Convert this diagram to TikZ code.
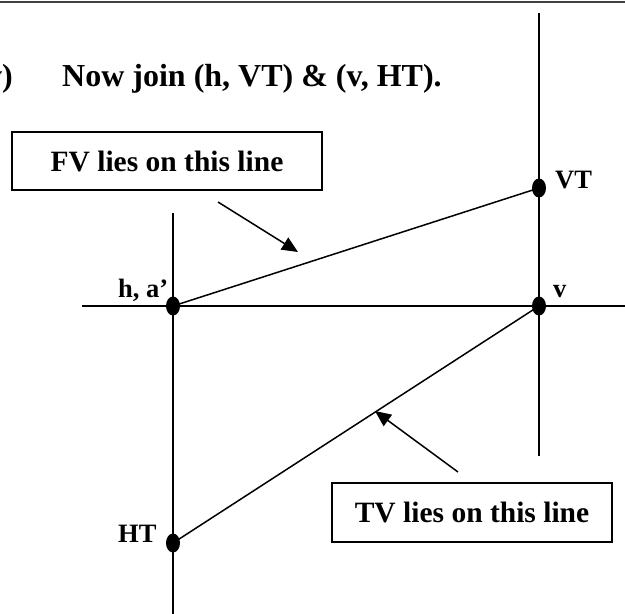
\documentclass[tikz,border=0pt]{standalone}
\usepackage{fontspec}
\setmainfont{Liberation Serif}
\usetikzlibrary{arrows.meta,shapes.geometric}
\begin{document}
\begin{tikzpicture}[x=1pt,y=-1pt,
  axis/.style={line width=1.6pt},
  trace/.style={line width=1.5pt},
  dot/.style={ellipse,fill=black,inner sep=0pt,minimum width=14pt,minimum height=19pt},
  lbl/.style={anchor=base west,inner sep=0pt,font=\fontsize{26.5}{30}\selectfont\bfseries},
  callout/.style={draw,line width=1.6pt,inner sep=0pt,font=\fontsize{29.5}{33}\selectfont\bfseries},
  pointer/.style={line width=1.5pt,-{Triangle[length=16pt,width=14pt]}}]
\useasboundingbox (0,0) rectangle (625,614);
\clip (0,0) rectangle (625,614);
% top rule
\draw[line width=1.8pt,black!75] (0,2) -- (625,2);
% title
\node[anchor=base east,inner sep=0pt,font=\fontsize{32}{36}\selectfont\bfseries] (num) at (13,86) {v)};
\node[anchor=base west,inner sep=0pt,font=\fontsize{32}{36}\selectfont\bfseries] (title) at (62,86) {Now join (h, VT) \& (v, HT).};
% axes
\draw[axis] (82,306) -- (625,306);
\draw[axis] (173,213) -- (173,614);
\draw[axis] (539,13) -- (539,456);
% points
\node[dot] (h) at (173,306) {};
\node[dot] (v) at (539,306) {};
\node[dot] (VT) at (539,188) {};
\node[dot] (HT) at (173,543) {};
% lines
\draw[trace] (h.center) -- (VT.center);
\draw[trace] (HT.center) -- (v.center);
% labels
\node[lbl] (lVT) at (555,188) {VT};
\node[lbl] (lv) at (553,297) {v};
\node[lbl] (lh) at (118,297) {h, a’};
\node[lbl] (lHT) at (118,542) {HT};
% callouts
\node[callout,minimum width=310pt,minimum height=58pt] (fv) at (167,161) {FV lies on this line};
\node[callout,minimum width=280pt,minimum height=59pt] (tv) at (472,512.5) {TV lies on this line};
\coordinate (fvs) at (218,202);
\coordinate (fve) at (298,252);
\coordinate (tvs) at (458,472);
\coordinate (tve) at (375,411);
\draw[pointer] (fvs) -- (fve);
\draw[pointer] (tvs) -- (tve);
\end{tikzpicture}
\end{document}
